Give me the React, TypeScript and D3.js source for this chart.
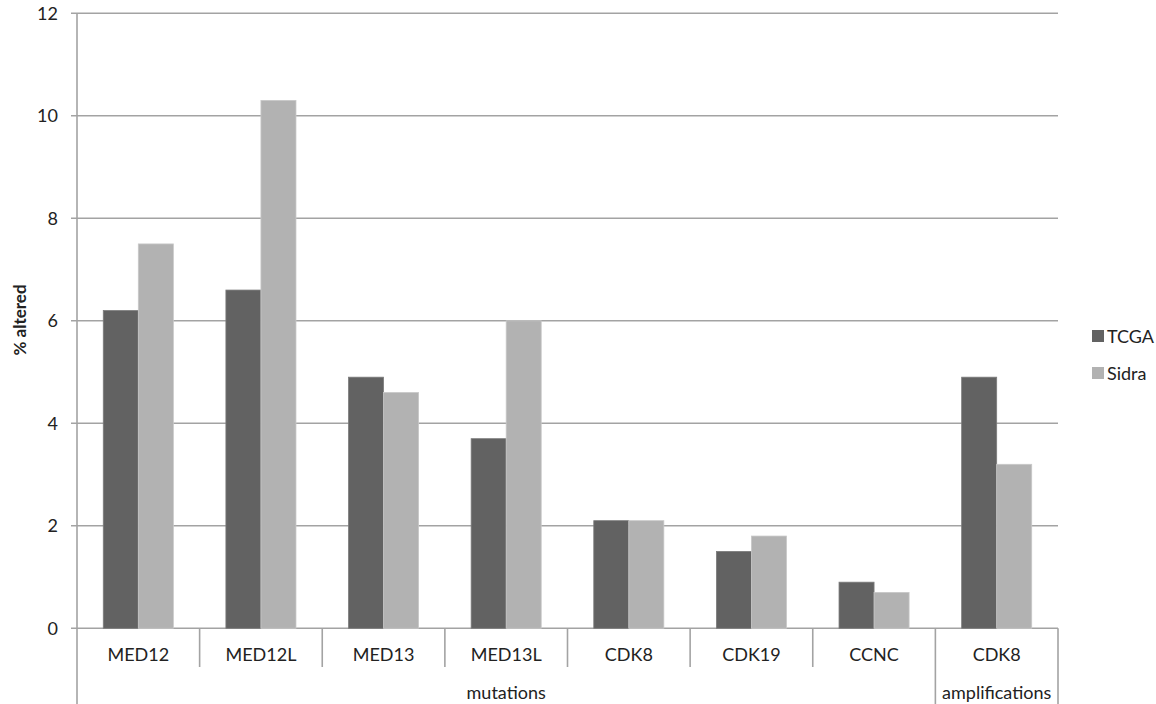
import React from "react";
import * as d3 from "d3";

const categories = ["MED12", "MED12L", "MED13", "MED13L", "CDK8", "CDK19", "CCNC", "CDK8"];
const categoryGroup = [0, 0, 0, 0, 0, 0, 0, 1];
const groupLabels = ["mutations", "amplifications"];
const seriesNames = ["TCGA", "Sidra"];
const tcgaValues = [6.2, 6.6, 4.9, 3.7, 2.1, 1.5, 0.9, 4.9];
const sidraValues = [7.5, 10.3, 4.6, 6.0, 2.1, 1.8, 0.7, 3.2];
const yTicks = [0, 2, 4, 6, 8, 10, 12];
const seriesColors = ["#626262", "#b2b2b2"];
const seriesStroke = ["#7c7c7c", "#c8c8c8"];

const W = 1156;
const H = 704;
const left = 77;
const right = 1058;
const top = 13.3;
const bottom = 628.3;
const FONT = "Lato, 'Open Sans', sans-serif";
const TEXT = "#222";
const GRID = "#a3a3a3";

export default function App() {
  const idx = categories.map((_, i) => String(i));
  const x = d3.scaleBand<string>().domain(idx).range([left, right]).padding(0);
  const inner = d3
    .scaleBand<string>()
    .domain(seriesNames)
    .range([0, x.bandwidth()])
    .paddingInner(0)
    .paddingOuter(0.75);
  const y = d3.scaleLinear().domain([0, 12]).range([bottom, top]);
  const values = [tcgaValues, sidraValues];

  // group spans
  const groups = groupLabels.map((label, g) => {
    const members = categoryGroup.map((cg, i) => (cg === g ? i : -1)).filter((i) => i >= 0);
    const x0 = x(String(members[0]))!;
    const x1 = x(String(members[members.length - 1]))! + x.bandwidth();
    return { label, x0, x1 };
  });

  return (
    <svg
      width={W}
      height={H}
      style={{ position: "absolute", left: 0, top: 0, background: "#fff" }}
      fontFamily={FONT}
    >
      <rect x={0} y={0} width={W} height={H} fill="#fff" />
      {/* gridlines */}
      {yTicks.map((t) => (
        <line
          key={"g" + t}
          x1={left - 6}
          x2={right}
          y1={y(t)}
          y2={y(t)}
          stroke={GRID}
          strokeWidth={1.6}
        />
      ))}
      {/* bars */}
      {categories.map((c, i) =>
        seriesNames.map((s, k) => {
          const v = values[k][i];
          const bx = x(String(i))! + inner(s)!;
          return (
            <rect
              key={c + i + s}
              x={bx}
              y={y(v)}
              width={inner.bandwidth()}
              height={y(0) - y(v)}
              fill={seriesColors[k]}
              stroke={seriesStroke[k]}
              strokeWidth={0.8}
            />
          );
        })
      )}
      {/* y axis */}
      <line x1={left} x2={left} y1={top} y2={H} stroke={GRID} strokeWidth={1.6} />
      {yTicks.map((t) => (
        <text
          key={"t" + t}
          x={58}
          y={y(t) + 6.5}
          textAnchor="end"
          fontSize={18}
          fill={TEXT}
        >
          {t}
        </text>
      ))}
      {/* category separators */}
      {categories.map((_, i) => {
        if (i === 0) return null;
        const bx = x(String(i))!;
        const isGroupEdge = categoryGroup[i] !== categoryGroup[i - 1];
        return (
          <line
            key={"s" + i}
            x1={bx}
            x2={bx}
            y1={bottom}
            y2={isGroupEdge ? H : 667}
            stroke={GRID}
            strokeWidth={1.6}
          />
        );
      })}
      <line x1={right} x2={right} y1={bottom} y2={H} stroke={GRID} strokeWidth={1.6} />
      {/* category labels */}
      {categories.map((c, i) => (
        <text
          key={"c" + i}
          x={x(String(i))! + x.bandwidth() / 2}
          y={660.5}
          textAnchor="middle"
          fontSize={18}
          fill={TEXT}
        >
          {c}
        </text>
      ))}
      {/* group labels */}
      {groups.map((g) => (
        <text
          key={g.label}
          x={(g.x0 + g.x1) / 2}
          y={699}
          textAnchor="middle"
          fontSize={18}
          fill={TEXT}
        >
          {g.label}
        </text>
      ))}
      {/* y axis title */}
      <text
        transform="translate(26,320) rotate(-90)"
        textAnchor="middle"
        fontSize={17}
        fontWeight="bold"
        fill={TEXT}
      >
        % altered
      </text>
      {/* legend */}
      {seriesNames.map((s, k) => (
        <g key={"l" + s} transform={`translate(1092,${330 + k * 37})`}>
          <rect x={0} y={0} width={12} height={12} fill={seriesColors[k]} />
          <text x={15} y={12.5} fontSize={18} fill={TEXT}>
            {s}
          </text>
        </g>
      ))}
    </svg>
  );
}
